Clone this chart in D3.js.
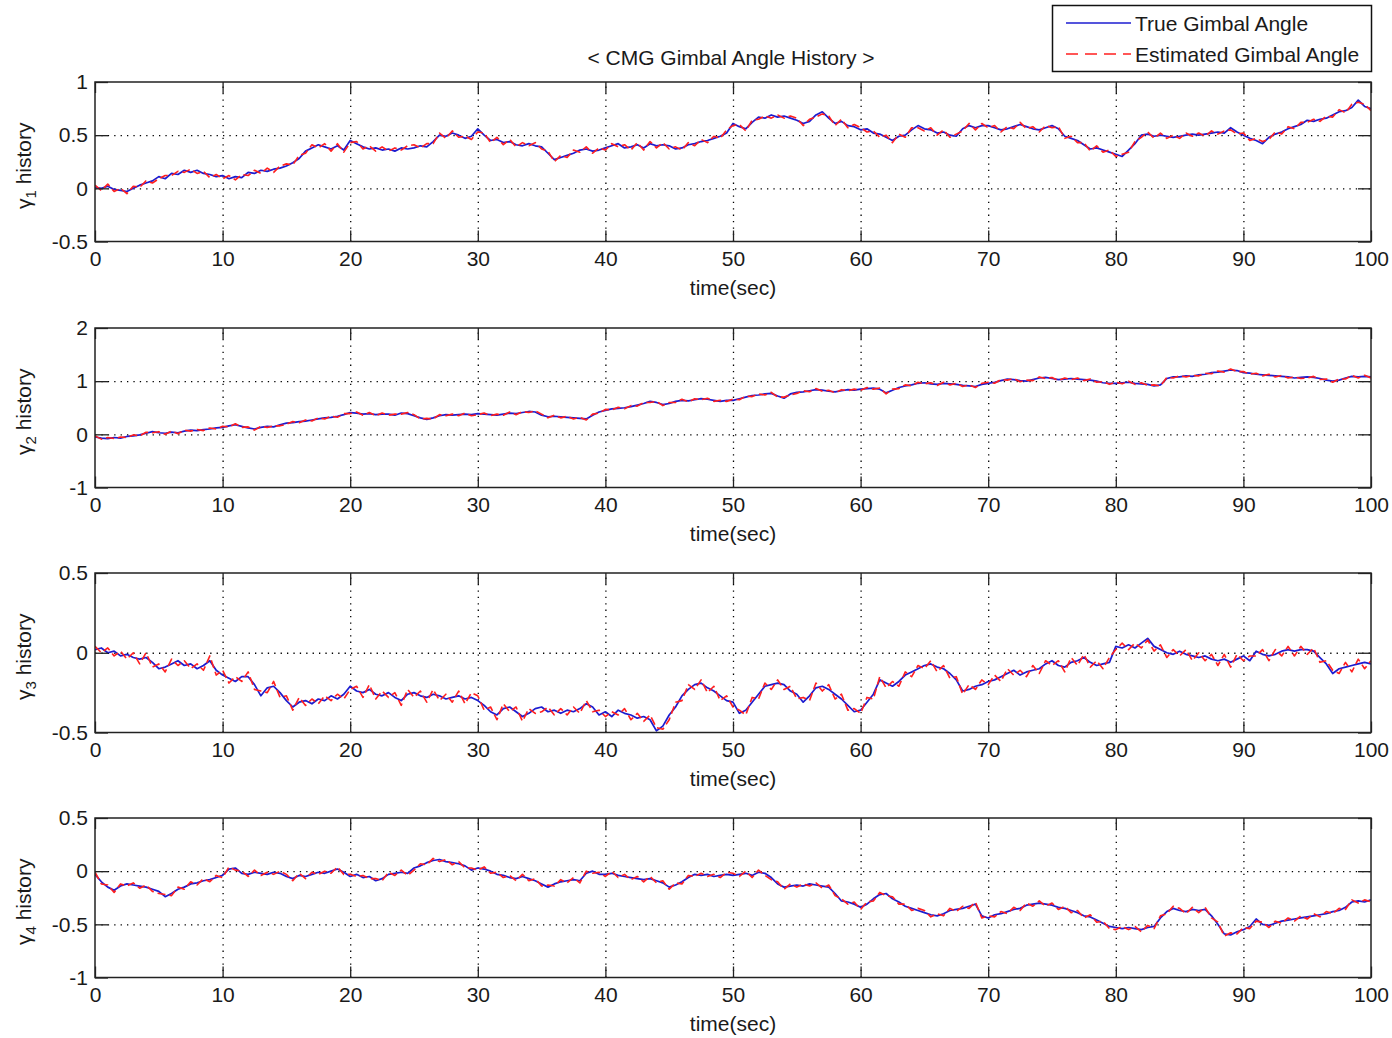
<!DOCTYPE html>
<html>
<head>
<meta charset="utf-8">
<script src="https://cdn.jsdelivr.net/npm/d3@7"></script>
<style>
  html, body { margin: 0; padding: 0; background: #fff; }
  svg { display: block; font-family: "Liberation Sans", Arial, sans-serif; }
</style>
</head>
<body>
<svg id="chart" width="1392" height="1038"></svg>
<script>
// Sample times of the simulation (s)
const timeSec = d3.range(0, 100.001, 0.5);

// Gimbal 1
const gamma1True = [
  0.01, 0.00, 0.02, -0.01, -0.02, -0.03, 0.00, 0.03, 0.05, 0.07,
  0.11, 0.09, 0.14, 0.13, 0.17, 0.15, 0.17, 0.14, 0.13, 0.11,
  0.12, 0.09, 0.11, 0.10, 0.15, 0.14, 0.17, 0.16, 0.18, 0.19,
  0.21, 0.24, 0.28, 0.35, 0.38, 0.41, 0.39, 0.37, 0.40, 0.36,
  0.45, 0.42, 0.39, 0.37, 0.38, 0.36, 0.37, 0.35, 0.38, 0.37,
  0.38, 0.40, 0.39, 0.44, 0.50, 0.49, 0.52, 0.50, 0.47, 0.49,
  0.56, 0.50, 0.45, 0.46, 0.43, 0.44, 0.41, 0.40, 0.42, 0.40,
  0.39, 0.33, 0.27, 0.29, 0.31, 0.33, 0.36, 0.37, 0.35, 0.36,
  0.38, 0.40, 0.42, 0.38, 0.39, 0.41, 0.38, 0.42, 0.40, 0.41,
  0.40, 0.37, 0.38, 0.41, 0.42, 0.44, 0.45, 0.47, 0.49, 0.52,
  0.61, 0.58, 0.56, 0.62, 0.67, 0.66, 0.69, 0.67, 0.68, 0.66,
  0.64, 0.61, 0.63, 0.69, 0.72, 0.66, 0.61, 0.63, 0.59, 0.58,
  0.55, 0.56, 0.52, 0.51, 0.48, 0.45, 0.49, 0.50, 0.55, 0.59,
  0.56, 0.55, 0.52, 0.53, 0.50, 0.49, 0.56, 0.59, 0.57, 0.59,
  0.59, 0.57, 0.55, 0.56, 0.58, 0.60, 0.58, 0.56, 0.55, 0.57,
  0.59, 0.56, 0.49, 0.47, 0.45, 0.41, 0.37, 0.38, 0.36, 0.34,
  0.32, 0.30, 0.36, 0.42, 0.50, 0.51, 0.49, 0.50, 0.49, 0.48,
  0.49, 0.50, 0.51, 0.50, 0.51, 0.52, 0.53, 0.52, 0.57, 0.53,
  0.50, 0.47, 0.45, 0.42, 0.48, 0.51, 0.53, 0.56, 0.58, 0.60,
  0.64, 0.63, 0.65, 0.66, 0.69, 0.72, 0.73, 0.76, 0.83, 0.77,
  0.75
];
const gamma1Est = [
  0.03, -0.02, 0.04, -0.03, 0.00, -0.05, 0.02, 0.01, 0.07, 0.05,
  0.09, 0.12, 0.12, 0.16, 0.15, 0.18, 0.14, 0.16, 0.10, 0.13,
  0.09, 0.12, 0.08, 0.13, 0.12, 0.17, 0.14, 0.19, 0.15, 0.21,
  0.23, 0.22, 0.31, 0.33, 0.41, 0.38, 0.42, 0.35, 0.42, 0.34,
  0.43, 0.44, 0.37, 0.40, 0.35, 0.39, 0.35, 0.38, 0.36, 0.40,
  0.41, 0.38, 0.42, 0.42, 0.52, 0.47, 0.54, 0.48, 0.49, 0.46,
  0.53, 0.52, 0.43, 0.48, 0.41, 0.46, 0.39, 0.43, 0.40, 0.43,
  0.37, 0.35, 0.25, 0.31, 0.29, 0.36, 0.34, 0.39, 0.33, 0.38,
  0.36, 0.42, 0.39, 0.41, 0.36, 0.43, 0.36, 0.44, 0.38, 0.43,
  0.37, 0.39, 0.36, 0.43, 0.40, 0.46, 0.43, 0.49, 0.47, 0.55,
  0.59, 0.60, 0.54, 0.64, 0.65, 0.68, 0.66, 0.69, 0.66, 0.68,
  0.66, 0.59, 0.65, 0.67, 0.70, 0.68, 0.59, 0.65, 0.57, 0.60,
  0.57, 0.53, 0.54, 0.48, 0.50, 0.43, 0.51, 0.48, 0.57, 0.57,
  0.54, 0.57, 0.50, 0.55, 0.48, 0.51, 0.54, 0.61, 0.55, 0.61,
  0.57, 0.59, 0.53, 0.58, 0.56, 0.62, 0.56, 0.58, 0.53, 0.59,
  0.57, 0.58, 0.47, 0.49, 0.43, 0.43, 0.35, 0.40, 0.34, 0.36,
  0.30, 0.32, 0.34, 0.44, 0.48, 0.53, 0.47, 0.52, 0.47, 0.50,
  0.47, 0.52, 0.49, 0.52, 0.49, 0.54, 0.51, 0.54, 0.55, 0.51,
  0.52, 0.45, 0.47, 0.44, 0.46, 0.53, 0.51, 0.58, 0.56, 0.62,
  0.62, 0.65, 0.63, 0.68, 0.67, 0.74, 0.71, 0.79, 0.81, 0.79,
  0.73
];

// Gimbal 2
const gamma2True = [
  -0.05, -0.07, -0.08, -0.06, -0.07, -0.04, -0.03, -0.01, 0.02, 0.05,
  0.03, 0.02, 0.04, 0.03, 0.06, 0.08, 0.07, 0.09, 0.10, 0.12,
  0.13, 0.16, 0.18, 0.15, 0.12, 0.10, 0.13, 0.15, 0.14, 0.18,
  0.21, 0.22, 0.24, 0.25, 0.27, 0.29, 0.31, 0.32, 0.34, 0.37,
  0.41, 0.40, 0.38, 0.39, 0.37, 0.38, 0.38, 0.36, 0.40, 0.39,
  0.35, 0.31, 0.28, 0.31, 0.35, 0.37, 0.36, 0.37, 0.38, 0.37,
  0.39, 0.38, 0.37, 0.36, 0.38, 0.40, 0.39, 0.41, 0.43, 0.42,
  0.36, 0.33, 0.34, 0.33, 0.32, 0.31, 0.30, 0.29, 0.36, 0.42,
  0.45, 0.48, 0.49, 0.50, 0.52, 0.55, 0.58, 0.62, 0.60, 0.56,
  0.58, 0.62, 0.64, 0.63, 0.65, 0.67, 0.66, 0.64, 0.62, 0.64,
  0.64, 0.67, 0.70, 0.73, 0.74, 0.76, 0.77, 0.72, 0.68, 0.76,
  0.79, 0.80, 0.82, 0.84, 0.83, 0.81, 0.80, 0.82, 0.84, 0.83,
  0.85, 0.86, 0.87, 0.85, 0.78, 0.83, 0.88, 0.91, 0.93, 0.96,
  0.97, 0.95, 0.94, 0.96, 0.95, 0.94, 0.92, 0.91, 0.90, 0.94,
  0.96, 0.98, 1.01, 1.04, 1.03, 1.01, 1.00, 1.03, 1.06, 1.07,
  1.05, 1.03, 1.04, 1.05, 1.04, 1.03, 1.02, 1.00, 0.97, 0.96,
  0.96, 0.97, 0.98, 0.96, 0.95, 0.94, 0.91, 0.93, 1.05, 1.08,
  1.08, 1.10, 1.09, 1.12, 1.13, 1.16, 1.17, 1.19, 1.21, 1.20,
  1.16, 1.15, 1.13, 1.12, 1.11, 1.10, 1.09, 1.08, 1.06, 1.07,
  1.08, 1.07, 1.05, 1.02, 1.00, 1.02, 1.06, 1.09, 1.08, 1.09,
  1.08
];
const gamma2Est = [
  -0.03, -0.09, -0.06, -0.08, -0.05, -0.06, -0.01, -0.03, 0.04, 0.03,
  0.05, 0.00, 0.06, 0.01, 0.08, 0.06, 0.09, 0.07, 0.12, 0.10,
  0.15, 0.14, 0.20, 0.13, 0.14, 0.08, 0.15, 0.13, 0.16, 0.16,
  0.19, 0.24, 0.22, 0.27, 0.25, 0.31, 0.29, 0.34, 0.32, 0.39,
  0.39, 0.42, 0.36, 0.41, 0.35, 0.40, 0.36, 0.38, 0.38, 0.41,
  0.37, 0.29, 0.30, 0.29, 0.37, 0.35, 0.38, 0.35, 0.40, 0.35,
  0.37, 0.40, 0.35, 0.38, 0.36, 0.42, 0.37, 0.43, 0.41, 0.44,
  0.38, 0.31, 0.36, 0.31, 0.34, 0.29, 0.32, 0.27, 0.38, 0.40,
  0.47, 0.46, 0.51, 0.48, 0.54, 0.53, 0.60, 0.60, 0.62, 0.54,
  0.60, 0.60, 0.66, 0.61, 0.67, 0.65, 0.68, 0.62, 0.64, 0.62,
  0.66, 0.65, 0.72, 0.71, 0.76, 0.74, 0.79, 0.70, 0.70, 0.74,
  0.77, 0.82, 0.80, 0.86, 0.81, 0.83, 0.78, 0.84, 0.82, 0.85,
  0.83, 0.88, 0.85, 0.87, 0.76, 0.85, 0.86, 0.93, 0.91, 0.98,
  0.95, 0.97, 0.92, 0.98, 0.93, 0.96, 0.90, 0.93, 0.88, 0.96,
  0.98, 0.96, 1.03, 1.02, 1.05, 0.99, 1.02, 1.01, 1.08, 1.05,
  1.07, 1.01, 1.06, 1.03, 1.06, 1.01, 1.04, 0.98, 0.99, 0.94,
  0.98, 0.95, 1.00, 0.94, 0.97, 0.92, 0.93, 0.91, 1.07, 1.06,
  1.10, 1.08, 1.11, 1.10, 1.15, 1.14, 1.19, 1.17, 1.23, 1.18,
  1.18, 1.13, 1.15, 1.10, 1.13, 1.08, 1.11, 1.06, 1.08, 1.05,
  1.06, 1.09, 1.03, 1.04, 0.98, 1.04, 1.04, 1.11, 1.06, 1.11,
  1.06
];

// Gimbal 3
const gamma3True = [
  0.02, 0.03, 0.00, 0.01, -0.02, -0.01, -0.03, -0.04, -0.03, -0.06,
  -0.10, -0.09, -0.07, -0.05, -0.08, -0.07, -0.10, -0.08, -0.05, -0.11,
  -0.14, -0.16, -0.18, -0.15, -0.15, -0.20, -0.27, -0.22, -0.21, -0.25,
  -0.30, -0.34, -0.31, -0.30, -0.32, -0.29, -0.30, -0.27, -0.29, -0.26,
  -0.21, -0.24, -0.25, -0.23, -0.26, -0.27, -0.25, -0.28, -0.30, -0.26,
  -0.25, -0.27, -0.28, -0.26, -0.27, -0.29, -0.28, -0.27, -0.29, -0.28,
  -0.30, -0.33, -0.37, -0.39, -0.35, -0.34, -0.37, -0.40, -0.38, -0.35,
  -0.34, -0.37, -0.36, -0.38, -0.36, -0.37, -0.35, -0.32, -0.34, -0.39,
  -0.37, -0.40, -0.36, -0.38, -0.39, -0.41, -0.40, -0.42, -0.49, -0.46,
  -0.39, -0.34, -0.27, -0.23, -0.20, -0.19, -0.22, -0.24, -0.27, -0.30,
  -0.31, -0.38, -0.36, -0.31, -0.26, -0.21, -0.20, -0.19, -0.20, -0.24,
  -0.26, -0.31, -0.27, -0.22, -0.21, -0.23, -0.26, -0.29, -0.33, -0.37,
  -0.36, -0.31, -0.26, -0.17, -0.19, -0.21, -0.18, -0.14, -0.12, -0.10,
  -0.08, -0.07, -0.09, -0.10, -0.13, -0.17, -0.24, -0.23, -0.21, -0.20,
  -0.18, -0.17, -0.15, -0.13, -0.11, -0.14, -0.12, -0.11, -0.10, -0.07,
  -0.05, -0.08, -0.09, -0.06, -0.05, -0.03, -0.06, -0.08, -0.07, -0.06,
  0.04, 0.03, 0.05, 0.03, 0.06, 0.09, 0.04, 0.02, 0.00, -0.01,
  0.01, -0.01, -0.02, -0.03, -0.02, -0.04, -0.05, -0.04, -0.06, -0.04,
  -0.02, -0.05, 0.01, -0.01, -0.02, -0.01, 0.01, 0.02, 0.01, 0.02,
  0.02, 0.01, -0.03, -0.07, -0.13, -0.10, -0.09, -0.08, -0.07, -0.06,
  -0.07
];
const gamma3Est = [
  0.04, 0.00, 0.03, -0.02, 0.01, -0.04, 0.00, -0.07, 0.00, -0.09,
  -0.07, -0.12, -0.04, -0.08, -0.05, -0.10, -0.07, -0.11, -0.02, -0.14,
  -0.11, -0.19, -0.15, -0.18, -0.12, -0.23, -0.24, -0.25, -0.18, -0.28,
  -0.27, -0.36, -0.28, -0.33, -0.29, -0.32, -0.27, -0.30, -0.26, -0.29,
  -0.23, -0.21, -0.28, -0.20, -0.29, -0.24, -0.28, -0.25, -0.33, -0.23,
  -0.28, -0.24, -0.31, -0.23, -0.30, -0.26, -0.31, -0.24, -0.32, -0.25,
  -0.27, -0.36, -0.34, -0.42, -0.32, -0.37, -0.34, -0.43, -0.35, -0.38,
  -0.37, -0.34, -0.39, -0.35, -0.39, -0.34, -0.38, -0.30, -0.37, -0.36,
  -0.40, -0.37, -0.39, -0.35, -0.42, -0.38, -0.43, -0.39, -0.47, -0.48,
  -0.42, -0.31, -0.30, -0.20, -0.23, -0.17, -0.25, -0.21, -0.30, -0.27,
  -0.34, -0.36, -0.39, -0.28, -0.29, -0.19, -0.23, -0.17, -0.23, -0.21,
  -0.29, -0.28, -0.30, -0.19, -0.24, -0.20, -0.29, -0.26, -0.36, -0.35,
  -0.38, -0.28, -0.29, -0.15, -0.22, -0.18, -0.21, -0.12, -0.15, -0.08,
  -0.10, -0.05, -0.12, -0.08, -0.16, -0.15, -0.26, -0.20, -0.23, -0.17,
  -0.20, -0.14, -0.18, -0.10, -0.14, -0.11, -0.15, -0.08, -0.13, -0.05,
  -0.08, -0.05, -0.12, -0.03, -0.08, -0.01, -0.09, -0.05, -0.10, -0.03,
  0.02, 0.06, 0.02, 0.06, 0.03, 0.08, 0.01, 0.05, -0.03, 0.02,
  -0.02, 0.02, -0.05, 0.00, -0.05, -0.01, -0.08, -0.01, -0.09, -0.01,
  -0.05, -0.02, -0.02, 0.02, -0.05, 0.02, -0.02, 0.04, -0.02, 0.04,
  -0.01, 0.03, -0.06, -0.05, -0.11, -0.13, -0.06, -0.12, -0.04, -0.10,
  -0.05
];

// Gimbal 4
const gamma4True = [
  -0.03, -0.10, -0.15, -0.18, -0.14, -0.12, -0.13, -0.14, -0.15, -0.17,
  -0.19, -0.24, -0.21, -0.17, -0.15, -0.12, -0.11, -0.09, -0.08, -0.06,
  -0.04, 0.02, 0.03, -0.02, -0.03, -0.01, -0.02, -0.03, -0.01, -0.02,
  -0.05, -0.07, -0.04, -0.05, -0.03, -0.01, -0.02, 0.00, 0.02, -0.01,
  -0.05, -0.03, -0.06, -0.05, -0.09, -0.07, -0.03, -0.02, -0.01, -0.02,
  0.03, 0.05, 0.08, 0.10, 0.11, 0.09, 0.08, 0.07, 0.05, 0.01,
  0.03, 0.02, 0.00, -0.03, -0.04, -0.06, -0.07, -0.05, -0.07, -0.09,
  -0.12, -0.15, -0.12, -0.10, -0.09, -0.08, -0.09, -0.02, 0.00, -0.03,
  -0.03, -0.02, -0.04, -0.05, -0.06, -0.07, -0.08, -0.07, -0.09, -0.11,
  -0.15, -0.13, -0.10, -0.06, -0.03, -0.04, -0.03, -0.05, -0.04, -0.03,
  -0.04, -0.03, -0.02, -0.04, -0.01, -0.02, -0.06, -0.12, -0.15, -0.14,
  -0.13, -0.14, -0.12, -0.13, -0.14, -0.15, -0.21, -0.28, -0.29, -0.31,
  -0.34, -0.31, -0.26, -0.22, -0.21, -0.26, -0.29, -0.33, -0.35, -0.37,
  -0.39, -0.41, -0.42, -0.40, -0.37, -0.36, -0.35, -0.33, -0.31, -0.42,
  -0.44, -0.41, -0.40, -0.38, -0.36, -0.35, -0.32, -0.31, -0.30, -0.31,
  -0.32, -0.34, -0.35, -0.37, -0.39, -0.42, -0.43, -0.46, -0.49, -0.52,
  -0.53, -0.54, -0.53, -0.54, -0.55, -0.53, -0.52, -0.44, -0.38, -0.35,
  -0.37, -0.38, -0.36, -0.37, -0.36, -0.42, -0.50, -0.59, -0.60, -0.57,
  -0.55, -0.52, -0.45, -0.50, -0.51, -0.49, -0.47, -0.46, -0.45, -0.44,
  -0.43, -0.42, -0.41, -0.40, -0.38, -0.37, -0.34, -0.29, -0.28, -0.29,
  -0.27
];
const gamma4Est = [
  -0.01, -0.12, -0.13, -0.20, -0.12, -0.14, -0.11, -0.16, -0.13, -0.19,
  -0.21, -0.22, -0.23, -0.15, -0.17, -0.10, -0.13, -0.07, -0.10, -0.04,
  -0.06, 0.04, 0.01, 0.00, -0.05, 0.01, -0.04, -0.01, -0.03, 0.00,
  -0.03, -0.09, -0.02, -0.07, -0.01, -0.03, 0.00, -0.02, 0.04, -0.03,
  -0.03, -0.05, -0.04, -0.07, -0.07, -0.09, -0.01, -0.04, 0.01, -0.04,
  0.01, 0.07, 0.06, 0.12, 0.09, 0.11, 0.06, 0.09, 0.03, 0.03,
  0.01, 0.04, -0.02, -0.01, -0.06, -0.04, -0.09, -0.03, -0.09, -0.07,
  -0.14, -0.13, -0.14, -0.08, -0.11, -0.06, -0.11, 0.00, -0.02, -0.01,
  -0.05, 0.00, -0.06, -0.03, -0.08, -0.05, -0.10, -0.05, -0.11, -0.09,
  -0.17, -0.11, -0.12, -0.04, -0.05, -0.02, -0.05, -0.03, -0.06, -0.01,
  -0.02, -0.05, 0.00, -0.06, 0.01, -0.04, -0.08, -0.10, -0.17, -0.12,
  -0.15, -0.12, -0.14, -0.11, -0.16, -0.13, -0.23, -0.26, -0.31, -0.29,
  -0.36, -0.29, -0.28, -0.20, -0.23, -0.24, -0.31, -0.31, -0.37, -0.35,
  -0.37, -0.43, -0.40, -0.42, -0.35, -0.38, -0.33, -0.35, -0.29, -0.44,
  -0.42, -0.43, -0.38, -0.40, -0.34, -0.37, -0.30, -0.33, -0.28, -0.33,
  -0.30, -0.36, -0.33, -0.39, -0.37, -0.44, -0.41, -0.48, -0.47, -0.54,
  -0.55, -0.52, -0.55, -0.52, -0.57, -0.51, -0.54, -0.42, -0.40, -0.33,
  -0.35, -0.40, -0.34, -0.39, -0.34, -0.44, -0.48, -0.61, -0.58, -0.59,
  -0.53, -0.54, -0.47, -0.48, -0.53, -0.47, -0.49, -0.44, -0.47, -0.42,
  -0.45, -0.40, -0.43, -0.38, -0.40, -0.35, -0.36, -0.27, -0.30, -0.27,
  -0.29
];

// Axis ticks
const timeTicks = [0, 10, 20, 30, 40, 50, 60, 70, 80, 90, 100];
const yTicks1 = [-0.5, 0, 0.5, 1];
const yTicks2 = [-1, 0, 1, 2];
const yTicks3 = [-0.5, 0, 0.5];
const yTicks4 = [-1, -0.5, 0, 0.5];

const titleText = "< CMG Gimbal Angle History >";
const legendLabels = ["True Gimbal Angle", "Estimated Gimbal Angle"];
const xLabelText = "time(sec)";

const panels = [
  { sub: "1", ticks: yTicks1, truth: gamma1True, est: gamma1Est },
  { sub: "2", ticks: yTicks2, truth: gamma2True, est: gamma2Est },
  { sub: "3", ticks: yTicks3, truth: gamma3True, est: gamma3Est },
  { sub: "4", ticks: yTicks4, truth: gamma4True, est: gamma4Est }
];

// ---- layout ----
const plotLeft = 95, plotRight = 1371;
const panelTops = [82, 328, 573, 818];
const panelHeight = 159.5;
const fontSize = 21;
const textColor = "#1a1a1a";
const blue = "#1c1cd0";
const red = "#ff1f1f";

const svg = d3.select("#chart");

const x = d3.scaleLinear().domain([0, 100]).range([plotLeft, plotRight]);

svg.append("text")
  .attr("x", 731).attr("y", 65)
  .attr("text-anchor", "middle")
  .attr("font-size", fontSize)
  .attr("fill", textColor)
  .text(titleText);

const defs = svg.append("defs");

panels.forEach((p, i) => {
  const top = panelTops[i], bottom = top + panelHeight;
  const y = d3.scaleLinear()
    .domain([p.ticks[0], p.ticks[p.ticks.length - 1]])
    .range([bottom, top]);
  const g = svg.append("g");

  defs.append("clipPath").attr("id", "clip" + i)
    .append("rect")
    .attr("x", plotLeft).attr("y", top)
    .attr("width", plotRight - plotLeft).attr("height", panelHeight);

  // dotted grid
  const innerX = timeTicks.slice(1, -1);
  const innerY = p.ticks.slice(1, -1);
  g.append("g")
    .attr("transform", `translate(0,${bottom})`)
    .call(d3.axisBottom(x).tickValues(innerX).tickSize(-(panelHeight)).tickFormat(""))
    .call(s => s.select(".domain").remove())
    .selectAll("line")
    .attr("stroke", "#000").attr("stroke-width", 1.3)
    .attr("stroke-dasharray", "1.3,5.1");
  g.append("g")
    .attr("transform", `translate(${plotLeft},0)`)
    .call(d3.axisLeft(y).tickValues(innerY).tickSize(-(plotRight - plotLeft)).tickFormat(""))
    .call(s => s.select(".domain").remove())
    .selectAll("line")
    .attr("stroke", "#000").attr("stroke-width", 1.3)
    .attr("stroke-dasharray", "1.3,5.1");

  // data lines: true (solid blue) under estimate (dashed red)
  const line = d3.line()
    .x((d, k) => x(timeSec[k]))
    .y(d => y(d));
  const dataG = g.append("g").attr("clip-path", `url(#clip${i})`);
  dataG.append("path")
    .datum(p.truth)
    .attr("d", line)
    .attr("fill", "none")
    .attr("stroke", blue)
    .attr("stroke-width", 1.7)
    .attr("stroke-linejoin", "round");
  dataG.append("path")
    .datum(p.est)
    .attr("d", line)
    .attr("fill", "none")
    .attr("stroke", red)
    .attr("stroke-width", 1.6)
    .attr("stroke-dasharray", "8,4")
    .attr("stroke-linejoin", "round");

  // inward tick marks on all four sides
  const tickStyle = s => {
    s.select(".domain").remove();
    s.selectAll("line").attr("stroke", "#222").attr("stroke-width", 1.3);
  };
  g.append("g").attr("transform", `translate(0,${bottom})`)
    .call(d3.axisBottom(x).tickValues(timeTicks).tickSize(-11).tickFormat("")).call(tickStyle);
  g.append("g").attr("transform", `translate(0,${top})`)
    .call(d3.axisTop(x).tickValues(timeTicks).tickSize(-11).tickFormat("")).call(tickStyle);
  g.append("g").attr("transform", `translate(${plotLeft},0)`)
    .call(d3.axisLeft(y).tickValues(p.ticks).tickSize(-13).tickFormat("")).call(tickStyle);
  g.append("g").attr("transform", `translate(${plotRight},0)`)
    .call(d3.axisRight(y).tickValues(p.ticks).tickSize(-13).tickFormat("")).call(tickStyle);

  // box
  g.append("rect")
    .attr("x", plotLeft).attr("y", top)
    .attr("width", plotRight - plotLeft).attr("height", panelHeight)
    .attr("fill", "none").attr("stroke", "#222").attr("stroke-width", 1.5);

  // tick labels
  const labelStyle = s => {
    s.select(".domain").remove();
    s.selectAll("line").remove();
    s.selectAll("text").attr("font-size", fontSize).attr("fill", textColor)
      .attr("font-family", "'Liberation Sans', Arial, sans-serif");
  };
  g.append("g").attr("transform", `translate(0,${bottom})`)
    .call(d3.axisBottom(x).tickValues(timeTicks).tickSize(0).tickPadding(10).tickFormat(d => String(d)))
    .call(labelStyle);
  g.append("g").attr("transform", `translate(${plotLeft},0)`)
    .call(d3.axisLeft(y).tickValues(p.ticks).tickSize(0).tickPadding(7).tickFormat(d => String(d)))
    .call(labelStyle);

  // x-axis title
  g.append("text")
    .attr("x", (plotLeft + plotRight) / 2)
    .attr("y", bottom + 53)
    .attr("text-anchor", "middle")
    .attr("font-size", fontSize).attr("fill", textColor)
    .text(xLabelText);

  // y-axis title: γ_i history
  const yl = g.append("text")
    .attr("transform", `translate(31,${top + panelHeight / 2 + 4}) rotate(-90)`)
    .attr("text-anchor", "middle")
    .attr("font-size", fontSize).attr("fill", textColor);
  yl.append("tspan").text("\u03B3");
  yl.append("tspan").attr("dy", 5).attr("font-size", 15).text(p.sub);
  yl.append("tspan").attr("dy", -5).text(" history");
});

// legend
const lg = svg.append("g");
lg.append("rect")
  .attr("x", 1052.5).attr("y", 5.5).attr("width", 319).attr("height", 66)
  .attr("fill", "#fff").attr("stroke", "#111").attr("stroke-width", 1.5);
const legendColors = [blue, red];
const legendDash = [null, "12,7"];
legendLabels.forEach((lab, k) => {
  const cy = 23 + k * 31;
  lg.append("line")
    .attr("x1", 1066).attr("x2", 1131).attr("y1", cy).attr("y2", cy)
    .attr("stroke", legendColors[k]).attr("stroke-width", 1.3)
    .attr("stroke-dasharray", legendDash[k]);
  lg.append("text")
    .attr("x", 1135).attr("y", cy + 8)
    .attr("font-size", fontSize).attr("fill", textColor)
    .text(lab);
});
</script>
</body>
</html>
